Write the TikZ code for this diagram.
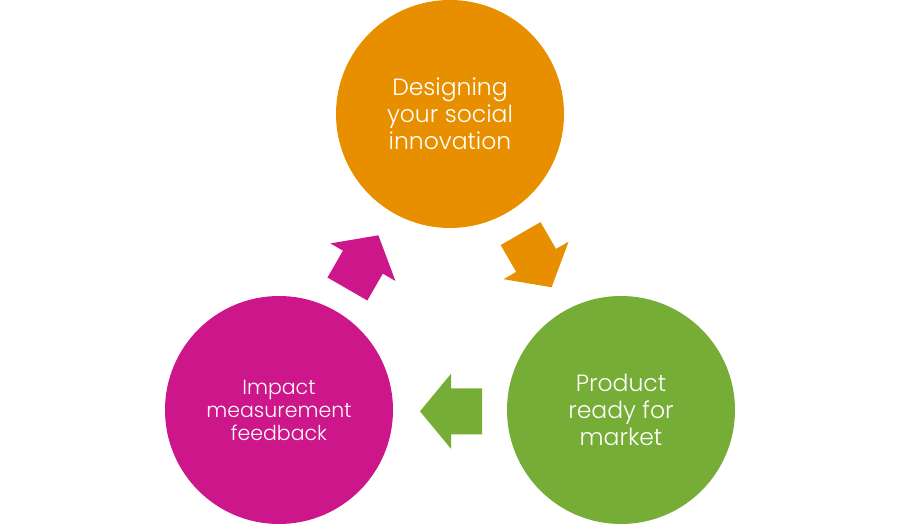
\documentclass[tikz,border=0pt]{standalone}
\usepackage{fontspec}
\setmainfont{Poppins Light}
\definecolor{cOrange}{RGB}{232,143,0}
\definecolor{cGreen}{RGB}{118,173,54}
\definecolor{cMagenta}{RGB}{204,22,137}
\tikzset{
  bubble/.style={circle, minimum size=228pt, inner sep=0pt, text=white, align=center},
  bigtext/.style={font=\fontsize{23.5}{27}\selectfont},
  smalltext/.style={font=\fontsize{20.5}{23}\selectfont},
}
\newcommand{\cyclearrow}{(-30,-100) -- (1,-62.5) -- (1,-77) -- (32,-77) -- (32,-123) -- (1,-123) -- (1,-137.5) -- cycle}
\begin{document}
\begin{tikzpicture}[x=1pt,y=1pt]
\useasboundingbox (0,0) rectangle (900,525);
\node[bubble, bigtext, fill=cOrange] (design) at (450,411) {Designing\\your social\\innovation};
\node[bubble, bigtext, fill=cGreen] (product) at (621,115) {Product\\ready for\\market};
\node[bubble, smalltext, fill=cMagenta] (impact) at (279,115) {Impact\\measurement\\feedback};
\coordinate (ctr) at (450,213.7);
\begin{scope}[shift={(ctr)}]
  \fill[cGreen] \cyclearrow;
  \fill[cOrange, rotate=120] \cyclearrow;
  \fill[cMagenta, rotate=240] \cyclearrow;
\end{scope}
\end{tikzpicture}
\end{document}
